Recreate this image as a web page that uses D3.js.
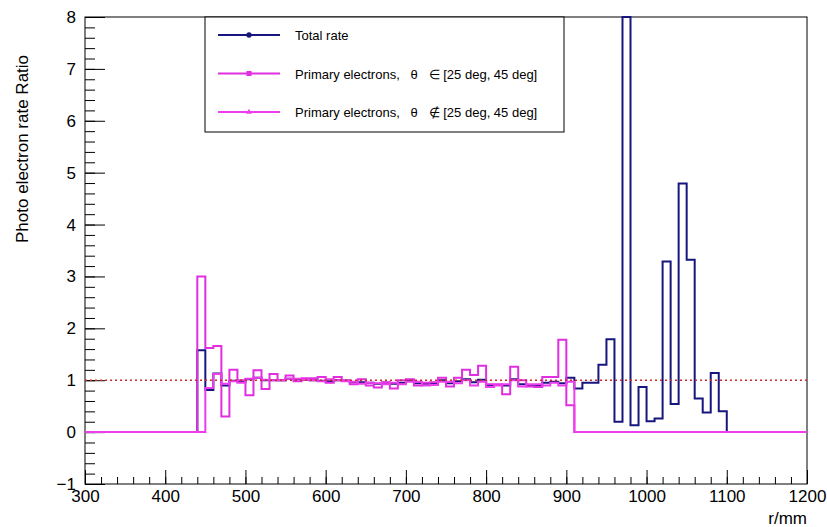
<!DOCTYPE html>
<html>
<head>
<meta charset="utf-8">
<script src="https://cdn.jsdelivr.net/npm/d3@7/dist/d3.min.js"></script>
<style>
  body { margin: 0; background: #fff; }
  text { font-family: "Liberation Sans", Arial, sans-serif; }
</style>
</head>
<body>
<div id="chart"></div>
<script>
// histogram bins: 10 mm wide, first bin starts at 440 mm
var binStart = 440, binWidth = 10;

// Total rate ratio, bins 440 .. 1090
var totalRate = [1.58, 0.81, 1.13, 0.90, 0.99, 0.97, 1.02, 1.05, 1.00, 1.00,
  1.00, 1.03, 1.02, 1.01, 1.00, 0.99, 0.98, 1.00, 0.99, 0.96,
  0.96, 0.95, 0.93, 0.95, 0.93, 0.95, 0.99, 0.94, 0.93, 0.94,
  1.00, 0.94, 0.98, 1.02, 0.96, 1.01, 0.90, 0.91, 0.90, 1.02,
  0.92, 0.90, 0.90, 0.95, 0.97, 0.94, 1.05, 0.84, 0.95, 0.95,
  1.30, 1.79, 0.20, 8.00, 0.13, 0.87, 0.21, 0.26, 3.29, 0.54,
  4.79, 3.32, 0.65, 0.38, 1.14, 0.40];

// Primary electrons, theta in [25,45] deg, bins 440 .. 900
var primIn = [3.00, 1.62, 1.66, 0.30, 1.20, 1.00, 0.71, 1.19, 0.83, 1.12,
  1.00, 1.09, 0.98, 1.04, 1.04, 1.06, 0.95, 1.06, 1.00, 0.92,
  1.02, 0.90, 0.86, 0.96, 0.84, 1.00, 1.02, 0.90, 0.95, 0.96,
  1.05, 0.88, 1.05, 1.20, 1.10, 1.28, 0.92, 0.92, 0.73, 1.26,
  1.00, 0.88, 0.87, 1.06, 1.06, 1.78, 0.52];

// Primary electrons, theta not in [25,45] deg, bins 440 .. 900
var primOut = [0.00, 0.85, 1.12, 0.93, 0.98, 0.95, 1.03, 1.05, 1.01, 1.00,
  1.00, 1.03, 1.03, 1.01, 1.00, 0.98, 1.02, 1.00, 0.98, 0.97,
  0.93, 0.95, 0.94, 0.92, 0.95, 0.92, 0.97, 0.97, 0.90, 0.91,
  0.97, 0.97, 0.94, 1.00, 0.90, 0.97, 0.87, 0.90, 0.92, 1.00,
  0.88, 0.92, 0.92, 0.90, 0.95, 0.90, 0.97];

var legendLabels = ["Total rate",
  "Primary electrons,   \u03b8   \u2208 [25 deg, 45 deg]",
  "Primary electrons,   \u03b8   \u2209 [25 deg, 45 deg]"];

var width = 827, height = 527;
var pLeft = 85, pRight = 807, pTop = 17, pBottom = 484;

var svg = d3.select("#chart").append("svg")
  .attr("width", width)
  .attr("height", height);

var x = d3.scaleLinear().domain([300, 1200]).range([pLeft, pRight]);
var y = d3.scaleLinear().domain([-1, 8]).range([pBottom, pTop]);

svg.append("clipPath").attr("id", "clip")
  .append("rect")
  .attr("x", pLeft).attr("y", pTop - 1)
  .attr("width", pRight - pLeft).attr("height", pBottom - pTop + 1);

// axes first, ROOT style ticks pointing into the frame
var xMajor = svg.append("g")
  .attr("transform", "translate(0," + pBottom + ")")
  .call(d3.axisBottom(x).tickValues(d3.range(300, 1201, 100)).tickSize(-14).tickPadding(16).tickFormat(d3.format("d")));
var xMinor = svg.append("g")
  .attr("transform", "translate(0," + pBottom + ")")
  .call(d3.axisBottom(x).tickValues(d3.range(300, 1201, 20)).tickSize(-7).tickFormat(""));
var yMajor = svg.append("g")
  .attr("transform", "translate(" + pLeft + ",0)")
  .call(d3.axisLeft(y).tickValues(d3.range(-1, 9, 1)).tickSize(-20).tickPadding(9)
    .tickFormat(function(d) { return d < 0 ? "\u2212" + (-d) : d; }));
var yMinor = svg.append("g")
  .attr("transform", "translate(" + pLeft + ",0)")
  .call(d3.axisLeft(y).tickValues(d3.range(-1, 8.01, 0.2)).tickSize(-10).tickFormat(""));

[xMajor, xMinor, yMajor, yMinor].forEach(function(g) {
  g.select(".domain").remove();
  g.selectAll(".tick line").attr("stroke", "#000").attr("stroke-width", 1);
  g.selectAll(".tick text")
    .attr("font-family", "Liberation Sans, Arial, sans-serif")
    .attr("font-size", "17px")
    .attr("fill", "#000");
});
xMajor.selectAll(".tick text").attr("dy", "0.75em").attr("y", 5);

// frame
svg.append("rect")
  .attr("x", pLeft).attr("y", pTop)
  .attr("width", pRight - pLeft).attr("height", pBottom - pTop)
  .attr("fill", "none")
  .attr("stroke", "#000")
  .attr("stroke-width", 1);

// step outline of a histogram, empty bins at 0 outside the filled range
function stepPoints(vals) {
  var pts = [[300, 0]];
  vals.forEach(function(v, i) { pts.push([binStart + i * binWidth, v]); });
  pts.push([binStart + vals.length * binWidth, 0]);
  pts.push([1200, 0]);
  return pts;
}

var line = d3.line()
  .x(function(d) { return x(d[0]); })
  .y(function(d) { return y(Math.min(d[1], 8)); })
  .curve(d3.curveStepAfter);

var plot = svg.append("g").attr("clip-path", "url(#clip)");

var series = [
  {vals: totalRate, color: "#16167e"},
  {vals: primIn, color: "#e02ee0"},
  {vals: primOut, color: "#ee3cee"}
];

plot.selectAll("path.hist")
  .data(series)
  .enter()
  .append("path")
  .attr("class", "hist")
  .attr("d", function(d) { return line(stepPoints(d.vals)); })
  .attr("fill", "none")
  .attr("stroke", function(d) { return d.color; })
  .attr("stroke-width", 2);

// reference line at ratio 1
svg.append("line")
  .attr("x1", x(300)).attr("x2", x(1200))
  .attr("y1", y(1)).attr("y2", y(1))
  .style("stroke", "#cc2a2a")
  .style("stroke-width", 1.6)
  .style("stroke-dasharray", "2,3");

// axis titles
svg.append("text")
  .attr("x", pRight).attr("y", 524)
  .attr("text-anchor", "end")
  .attr("font-size", "17px")
  .text("r/mm");

svg.append("text")
  .attr("transform", "translate(28,243) rotate(-90)")
  .attr("text-anchor", "start")
  .attr("font-size", "17px")
  .text("Photo electron rate Ratio");

// legend
var legend = svg.append("g");
legend.append("rect")
  .attr("x", 205).attr("y", pTop)
  .attr("width", 359).attr("height", 115)
  .attr("fill", "#fff")
  .attr("stroke", "#000")
  .attr("stroke-width", 1);

var rows = legend.selectAll("g.row")
  .data(series)
  .enter()
  .append("g")
  .attr("class", "row")
  .attr("transform", function(d, i) { return "translate(0," + (35 + i * 38.5) + ")"; });

rows.append("line")
  .attr("x1", 218).attr("x2", 280)
  .attr("y1", 0).attr("y2", 0)
  .attr("stroke", function(d) { return d.color; })
  .attr("stroke-width", 2);

rows.append("path")
  .attr("transform", "translate(249,0)")
  .attr("d", function(d, i) {
    var sym = [d3.symbolCircle, d3.symbolSquare, d3.symbolTriangle][i];
    return d3.symbol().type(sym).size([22, 26, 14][i])();
  })
  .attr("fill", function(d) { return d.color; });

rows.append("text")
  .attr("x", 295).attr("y", 5)
  .attr("font-size", "13px")
  .style("white-space", "pre")
  .attr("xml:space", "preserve")
  .text(function(d, i) { return legendLabels[i]; });
</script>
</body>
</html>
